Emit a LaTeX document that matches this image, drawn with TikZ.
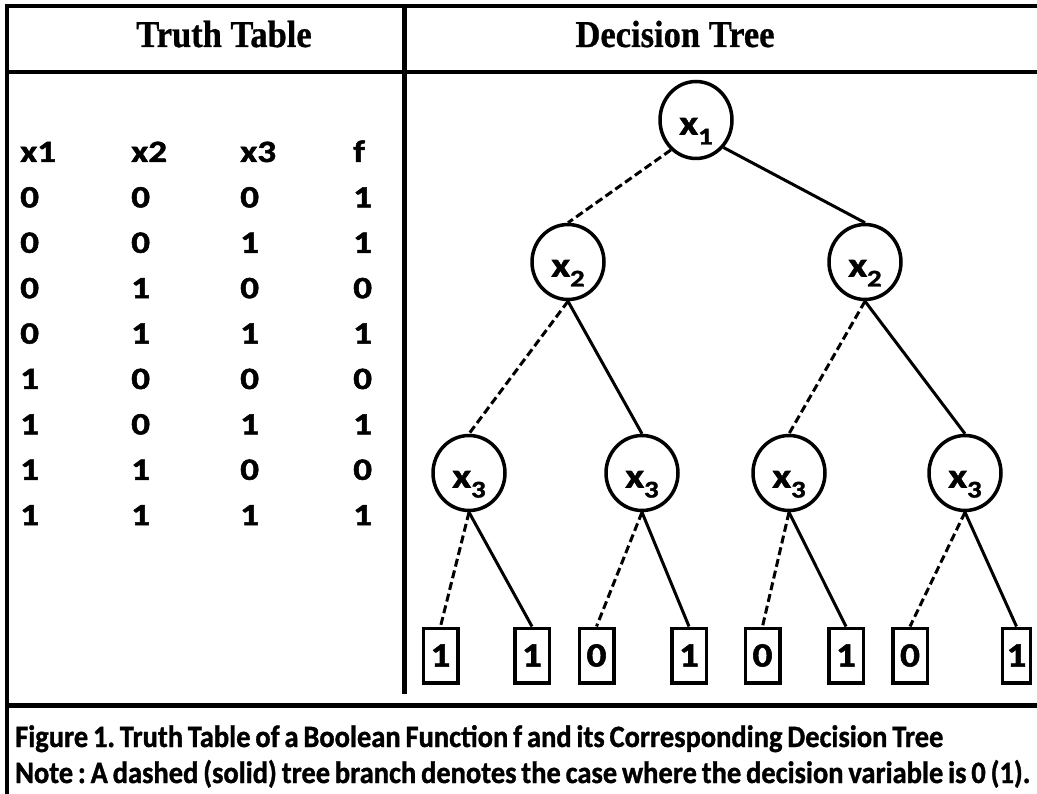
\documentclass[tikz,border=0pt]{standalone}
\usepackage{fontspec}
\setmainfont{Liberation Serif}[BoldFeatures={FakeBold=0.8}]
\newfontfamily\tabfont[FakeStretch=1.2,FakeBold=1.6]{Carlito}
\newfontfamily\varfont[FakeStretch=1.2,FakeBold=1.6]{Carlito}
\newfontfamily\leaffont[FakeStretch=1.15,FakeBold=1.6]{Carlito}
\newfontfamily\capfont[FakeBold=1.2]{Carlito}
\usetikzlibrary{shapes.geometric}
\newlength\capw
\def\capA{Figure 1. Truth Table of a Boolean Function f and its Corresponding Decision Tree}
\def\capB{Note : A dashed (solid) tree branch denotes the case where the decision variable is 0 (1).}
\newcommand{\capstyle}{\capfont\bfseries\fontsize{31}{31}\selectfont\frenchspacing\spaceskip=0.17em plus 0.05em\relax}

\begin{document}
\settowidth\capw{\capstyle\capB}%
\pgfmathsetmacro\capsx{1015/(\capw/1pt)}%
\begin{tikzpicture}[x=1pt,y=-1pt,
  rule/.style={line width=4.5pt},
  head/.style={anchor=base, inner sep=0pt, font=\bfseries\fontsize{34.5}{34.5}\selectfont},
  cell/.style={anchor=base west, inner sep=0pt, font=\tabfont\bfseries\fontsize{31}{31}\selectfont},
  var/.style={ellipse, draw, line width=3.5pt, minimum width=72pt, minimum height=75pt,
    inner sep=0pt, text height=29pt, text depth=0pt,
    font=\varfont\bfseries\fontsize{34}{34}\selectfont},
  leaf/.style={rectangle, draw, line width=3.5pt, minimum width=34.5pt, minimum height=54.5pt,
    inner sep=0pt, font=\leaffont\bfseries\fontsize{34}{34}\selectfont},
  zero/.style={line width=3pt, dash pattern=on 8pt off 4pt},
  one/.style={line width=3pt},
  captxt/.style={anchor=base west, inner sep=0pt}]

\useasboundingbox (0,0) rectangle (1037,794);
\fill[white] (0,0) rectangle (1037,794);

% frame and panel rules
\coordinate (tl) at (7,4);
\coordinate (bl) at (7,794);
\coordinate (tr0) at (5,6);
\coordinate (tr) at (1037,6);
\coordinate (hl) at (7,72);
\coordinate (hr) at (1037,72);
\coordinate (dt) at (404.5,4);
\coordinate (db) at (404.5,694);
\coordinate (ll) at (7,705.5);
\coordinate (lr) at (1037,705.5);
\draw[rule] (tl) -- (bl);
\draw[rule] (tr0) -- (tr);
\draw[rule] (hl) -- (hr);
\draw[rule] (dt) -- (db);
\draw[rule] (ll) -- (lr);

% panel titles
\node[head] (ttitle) at (224,47) {\scalebox{1}[1.1]{Truth Table}};
\node[head] (dtitle) at (675,47) {\scalebox{1}[1.1]{Decision Tree}};

% truth table
\node[cell] (h1) at (20,162) {x1};
\node[cell] (h2) at (131,162) {x2};
\node[cell] (h3) at (240,162) {x3};
\node[cell] (h4) at (353,162) {f};
\foreach \a/\b/\c/\f [count=\r] in {0/0/0/1,0/0/1/1,0/1/0/0,0/1/1/1,1/0/0/0,1/0/1/1,1/1/0/0,1/1/1/1}{
  \pgfmathsetmacro\yy{162+45.4*\r}
  \node[cell] (r\r c1) at (20,\yy) {\a};
  \node[cell] (r\r c2) at (131,\yy) {\b};
  \node[cell] (r\r c3) at (240,\yy) {\c};
  \node[cell] (r\r c4) at (353,\yy) {\f};
}

% decision tree
\newcommand{\xv}[1]{x\raisebox{-10pt}{\fontsize{24}{24}\selectfont #1}}
\node[var, minimum height=77pt] (root) at (696,120) {\xv{1}};
\node[var] (x2a) at (568,262) {\xv{2}};
\node[var] (x2b) at (865,262) {\xv{2}};
\node[var] (x3a) at (469,473) {\xv{3}};
\node[var] (x3b) at (642,473) {\xv{3}};
\node[var] (x3c) at (789,473) {\xv{3}};
\node[var] (x3d) at (965,473) {\xv{3}};

\node[leaf] (l1) at (440.5,655.5) {1};
\node[leaf] (l2) at (532,655.5) {1};
\node[leaf] (l3) at (596.5,655.5) {0};
\node[leaf] (l4) at (689,655.5) {1};
\node[leaf] (l5) at (762.5,655.5) {0};
\node[leaf] (l6) at (846,655.5) {1};
\node[leaf] (l7) at (910,655.5) {0};
\node[leaf, minimum width=28pt] (l8) at (1016.5,655.5) {1};

\draw[zero] (root.230) -- (x2a.north);
\draw[one]  (root.315) -- (x2b.north);
\draw[zero] (x2a.south) -- (x3a.north);
\draw[one]  (x2a.south) -- (x3b.north);
\draw[zero] (x2b.south) -- (x3c.north);
\draw[one]  (x2b.south) -- (x3d.north);
\draw[zero] (x3a.south) -- (l1.north);
\draw[one]  (x3a.south) -- (l2.north);
\draw[zero] (x3b.south) -- (l3.north);
\draw[one]  (x3b.south) -- (l4.north);
\draw[zero] (x3c.south) -- (l5.north);
\draw[one]  (x3c.south) -- (l6.north);
\draw[zero] (x3d.south) -- (l7.north);
\draw[one]  (x3d.south) -- (l8.north);

% caption, fitted to the frame width
\node[captxt] (cap1) at (15,747) {\scalebox{\capsx}[1]{\capstyle\capA}};
\node[captxt] (cap2) at (15,783) {\scalebox{\capsx}[1]{\capstyle\capB}};
\end{tikzpicture}
\end{document}
